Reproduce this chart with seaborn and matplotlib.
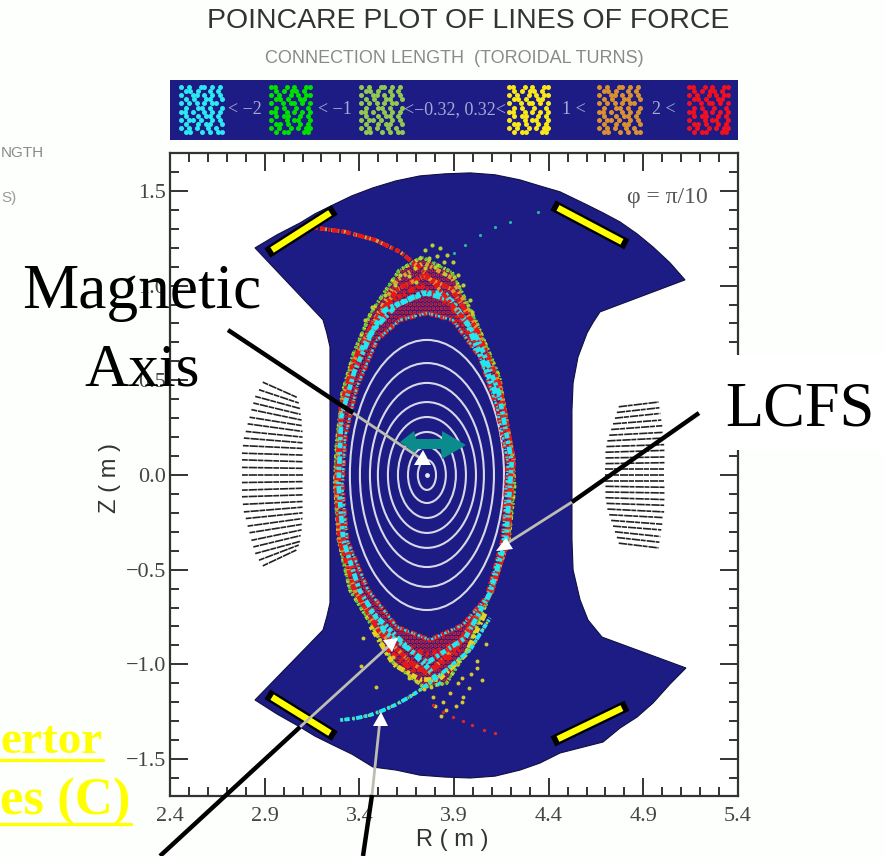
import matplotlib
matplotlib.use("Agg")
import matplotlib.pyplot as plt
from matplotlib.patches import Ellipse, Polygon, Rectangle
from matplotlib.ticker import MultipleLocator
import pandas as pd
import seaborn as sns

# ---------- data (R, Z in metres) ----------
wall_R = [2.849,2.965,3.087,3.166,3.261,3.361,3.472,3.594,3.720,3.853,3.985,4.117,4.249,4.354,4.460,4.603,4.687,4.777,4.867,4.951,5.041,5.120,
          4.671,4.635,4.603,4.555,4.529,4.523,4.523,4.523,4.529,4.566,4.608,4.682,5.125,5.041,4.951,4.867,4.777,4.687,4.460,4.354,4.249,4.117,3.985,3.853,3.720,3.594,3.472,3.361,3.261,3.166,
          3.087,2.965,2.849,3.208,3.228,3.245,3.245,3.228,3.208]
wall_Z = [1.199,1.268,1.331,1.379,1.426,1.474,1.516,1.553,1.579,1.590,1.595,1.585,1.558,1.526,1.495,1.426,1.384,1.336,1.273,1.204,1.120,1.030,
          0.861,0.806,0.750,0.623,0.486,0.343,0.000,-0.343,-0.502,-0.660,-0.766,-0.856,-1.019,-1.104,-1.204,-1.278,-1.336,-1.410,-1.468,-1.521,-1.558,-1.590,-1.600,-1.595,-1.585,-1.558,-1.542,-1.474,-1.426,-1.379,
          -1.331,-1.262,-1.188,-0.819,-0.750,-0.676,0.676,0.750,0.819]

surface_half_width = [0.407,0.354,0.301,0.259,0.206,0.153,0.100,0.048]
surface_half_height = [0.713,0.591,0.486,0.385,0.306,0.227,0.148,0.079]
axis_R, axis_Z = 3.757, 0.0

bars_R = [[2.939,3.245],[4.449,4.787],[4.449,4.787],[2.939,3.245]]
bars_Z = [[1.188,1.384],[1.410,1.231],[-1.394,-1.231],[-1.173,-1.363]]

coilL_Rl = [2.89,2.87,2.85,2.84,2.83,2.82,2.81,2.80,2.79,2.785,2.78,2.78,2.78,2.78,2.78,2.78,2.78,2.785,2.79,2.80,2.81,2.82,2.83,2.84,2.85,2.87,2.89]
coilL_Rr = [3.07,3.08,3.09,3.09,3.095,3.10,3.10,3.10,3.10,3.10,3.10,3.10,3.10,3.10,3.10,3.10,3.10,3.10,3.10,3.10,3.10,3.10,3.095,3.09,3.09,3.08,3.07]
coilL_Zl = [.49,.45,.415,.38,.345,.305,.27,.23,.195,.155,.115,.08,.04,0,-.04,-.08,-.115,-.155,-.195,-.23,-.27,-.305,-.345,-.38,-.415,-.45,-.48]
coilL_Zr = [.41,.38,.35,.32,.29,.26,.23,.2,.17,.14,.105,.07,.035,0,-.035,-.07,-.105,-.14,-.17,-.2,-.23,-.26,-.29,-.32,-.35,-.37,-.395]

coilR_Rl = [4.77,4.76,4.75,4.74,4.73,4.72,4.71,4.705,4.70,4.70,4.70,4.70,4.70,4.70,4.70,4.70,4.70,4.705,4.71,4.72,4.73,4.74,4.75,4.76,4.77]
coilR_Rr = [4.98,4.985,4.99,4.995,5.00,5.005,5.01,5.01,5.015,5.015,5.015,5.015,5.015,5.015,5.015,5.015,5.015,5.01,5.01,5.005,5.00,4.995,4.99,4.985,4.98]
coilR_Zl = [.36,.33,.30,.27,.24,.21,.18,.15,.12,.09,.06,.03,0,-.03,-.06,-.09,-.12,-.15,-.18,-.21,-.24,-.27,-.30,-.33,-.36]
coilR_Zr = [.385,.355,.325,.29,.26,.225,.195,.16,.13,.095,.065,.03,0,-.03,-.065,-.095,-.13,-.16,-.195,-.225,-.26,-.29,-.325,-.355,-.385]

outer_R = [3.73,3.61,3.46,3.37,3.31,3.28,3.27,3.29,3.35,3.47,3.58,3.74,3.86,3.97,4.10,4.19,4.22,4.21,4.14,4.02,3.89,3.73]
outer_Z = [1.15,1.08,.855,.644,.433,.169,-.04,-.343,-.607,-.803,-.993,-1.12,-1.10,-.924,-.607,-.343,-.06,.095,.517,.803,1.07,1.15]
inner_R = [3.757,3.614,3.493,3.387,3.325,3.31,3.335,3.445,3.599,3.773,3.947,4.074,4.158,4.185,4.127,4.037,3.894,3.757]
inner_Z = [.855,.818,.713,.465,.201,-.063,-.343,-.607,-.803,-.871,-.792,-.644,-.343,.063,.359,.623,.818,.855]
midA_R = [3.75,3.60,3.47,3.375,3.305,3.29,3.315,3.40,3.535,3.76,3.96,4.09,4.175,4.205,4.135,4.03,3.89,3.75]
midA_Z = [.96,.90,.76,.55,.31,-.05,-.343,-.607,-.83,-.99,-.86,-.625,-.343,.07,.44,.71,.92,.96]
midB_R = [3.74,3.60,3.47,3.37,3.305,3.278,3.295,3.375,3.50,3.66,3.76,3.92,4.10,4.185,4.215,4.14,4.025,3.89,3.74]
midB_Z = [1.05,.98,.80,.60,.37,-.05,-.343,-.607,-.82,-.98,-1.05,-.90,-.615,-.343,.08,.48,.76,.98,1.05]

capT_orange_R = [3.47,3.60,3.74,3.89,4.02]
capT_orange_Z = [.80,1.03,1.12,1.04,.78]
capT_red_R = [3.44,3.57,3.72,3.88,4.04]
capT_red_Z = [.72,.92,1.0,.90,.66]
capB_red_R = [3.5,3.62,3.77,3.93,4.06]
capB_red_Z = [-.76,-.90,-.95,-.88,-.68]
capB_yellow_R = [3.46,3.58,3.72,3.82,3.96,4.07]
capB_yellow_Z = [-.80,-1.0,-1.08,-1.08,-.95,-.72]
capB_mid_R = [3.55,3.68,3.80,3.93]
capB_mid_Z = [-.92,-1.03,-1.02,-.92]

tail_LL_R = [3.30,3.38,3.456,3.52,3.588,3.66,3.72,3.826,3.985,4.09]
tail_LL_Z = [-1.294,-1.285,-1.268,-1.245,-1.215,-1.175,-1.136,-1.056,-.924,-.755]
vee_R = [3.456,3.615,3.773,3.826]
vee_Z = [-.713,-.871,-1.03,-1.109]
tail_UL_R = [3.166,3.324,3.483,3.615,3.72,3.826,3.958]
tail_UL_Z = [1.305,1.284,1.241,1.178,1.093,.977,.819]
cap_cyan_R = [3.41,3.535,3.73,3.85,3.97,4.13]
cap_cyan_Z = [.66,.87,.96,.96,.80,.41]

top_R = [3.747,3.784,3.826,3.863,3.72,3.768,3.81,3.847,3.894,3.694,3.747,3.92,3.614,3.588,3.947,3.535,3.985,3.467,3.996,3.43,3.80,3.70,3.85,3.66]
top_Z = [1.188,1.215,1.199,1.162,1.146,1.146,1.157,1.125,1.125,1.093,1.093,1.056,1.056,1.004,1.004,.951,.924,.887,.861,.819,1.10,1.02,1.06,1.05]
tail_UR_R = [3.90,3.958,4.037,4.117,4.196,4.344]
tail_UR_Z = [1.17,1.215,1.268,1.31,1.336,1.389]
low_R = [3.74,3.79,3.84,3.88,3.92,3.95,3.80,3.83,3.86,3.91,3.78,3.70,3.66,3.99,4.02,4.05,3.58,3.42,3.41,3.49,4.07,4.02,3.98,3.94,3.94]
low_Z = [-1.13,-1.17,-1.20,-1.15,-1.10,-1.17,-1.22,-1.27,-1.24,-1.22,-1.12,-1.09,-1.07,-1.05,-.98,-1.08,-.96,-.86,-1.01,-1.12,-.89,-1.02,-1.125,-1.07,-1.20]
tail_LR_R = [3.79,3.84,3.895,3.95,3.995,4.06,4.117]
tail_LR_Z = [-1.215,-1.25,-1.278,-1.30,-1.32,-1.345,-1.363]

tick_R = [2.4,2.9,3.4,3.9,4.4,4.9,5.4]
tick_Z = [-1.5,-1.0,-0.5,0.0,0.5,1.0,1.5]
tick_Z_labels = ["\u22121.5","\u22121.0","\u22120.5","0.0","0.5","1.0","1.5"]

legend_labels = ["< \u22122","< \u22121","<\u22120.32, 0.32<","1 <","2 <"]
legend_colors = ["#2ce8f0","#00e000","#90c850","#f8e818","#d89030","#f01020"]
legend_patterns = [
 ["x.x..xx.x.x",".xx.x..x.x.","x..xx.x.x.x",".x.x..xx..x","x.x.x.x.xx.",".x..xx.x..x","xx.x..x.x.x",".x..x.xx.x.","x.xx.x..x.x",".x..x.xx..x","x.x.x..x.x.",".xx..x.x.xx"],
 ["xx..x.x..xx",".x.x.xx.x..","x.x..x.x.xx",".xx.x..xx..","x..x.xx.x.x",".x.x..x..x.","xx..x.x.x.x",".x.xx..x.x.","x...x.xx..x",".xx.x..x.x.","x.x..x.x.xx",".x.xx...xx."],
]

AX_BLUE = "#1c1c84"
sns.set_theme(style="ticks")
serif = ["Liberation Serif", "DejaVu Serif"]
sans = ["Liberation Sans", "DejaVu Sans"]
plt.rcParams["font.family"] = sans
plt.rcParams["hatch.linewidth"] = 2.0

W, H = 885, 856
fig = plt.figure(figsize=(W/100, H/100), dpi=100, facecolor="#fdfffd")

# ---------- main axes ----------
ax = fig.add_axes([170/W, (H-796)/H, 568/W, 643/H], facecolor="#ffffff")
ax.set_xlim(2.4, 5.4)
ax.set_ylim(-1.695, 1.70)

ax.fill(wall_R, wall_Z, facecolor=AX_BLUE, edgecolor="#101040", linewidth=0.8, zorder=1)

for rl, rr, zl, zr in zip(coilL_Rl, coilL_Rr, coilL_Zl, coilL_Zr):
    ax.plot([rl, rr], [zl, zr], color="#222222", lw=1.2, ls=(0, (3.5, 0.5, 5, 0.4)), zorder=2)
for rl, rr, zl, zr in zip(coilR_Rl, coilR_Rr, coilR_Zl, coilR_Zr):
    ax.plot([rl, rr], [zl, zr], color="#222222", lw=1.2, ls=(0, (5, 0.4, 3, 0.6)), zorder=2)

for w, h in zip(surface_half_width, surface_half_height):
    ax.add_patch(Ellipse((axis_R, axis_Z), 2*w, 2*h, fill=False, edgecolor="#d8d8e8", linewidth=1.5, zorder=3))
sns.scatterplot(x=[axis_R], y=[axis_Z], color="#e8e8f4", s=12, linewidth=0, ax=ax, zorder=3, legend=False)

# speckled ground of the band between its outer and inner edge
ax.fill(outer_R + inner_R[::-1], outer_Z + inner_Z[::-1], facecolor="none", edgecolor="#ee2028",
        hatch="....", linewidth=0, zorder=3.5)

def trace(r, z, color, width, pattern, order=4):
    frame = pd.DataFrame({"R": r, "Z": z})
    sns.lineplot(data=frame, x="R", y="Z", sort=False, estimator=None, color=color,
                 linewidth=width, linestyle=(0, pattern), ax=ax, zorder=order, legend=False)

IRREG_A = (0.7, 0.5, 1.2, 0.8, 0.5, 0.4, 1.6, 0.6)
IRREG_B = (0.9, 0.4, 0.5, 0.7, 1.3, 0.5, 0.6, 0.3)
IRREG_C = (0.5, 0.9, 0.8, 0.4, 0.5, 1.1, 1.0, 0.6)

trace(outer_R, outer_Z, "#e8d820", 2.6, IRREG_C)
trace(outer_R, outer_Z, "#50d040", 1.8, IRREG_A)
trace(capT_orange_R, capT_orange_Z, "#e0a030", 3.2, IRREG_C)
trace(capB_yellow_R, capB_yellow_Z, "#e8d020", 3.4, IRREG_A)
trace(midB_R, midB_Z, "#e09030", 3.0, IRREG_B)
trace(midB_R, midB_Z, "#e81818", 3.2, IRREG_A)
trace(capT_red_R, capT_red_Z, "#e81818", 3.6, IRREG_B)
trace(capB_red_R, capB_red_Z, "#e81818", 3.8, IRREG_C)
trace(capB_mid_R, capB_mid_Z, "#e81818", 3.6, IRREG_A)
trace(inner_R, inner_Z, "#e81818", 3.4, IRREG_B)
trace(midA_R, midA_Z, "#f02020", 3.4, IRREG_C)
trace(midA_R, midA_Z, "#20e8f0", 3.4, IRREG_A, order=4.5)
trace(inner_R, inner_Z, "#20e8f0", 1.8, IRREG_C, order=4.5)
trace(cap_cyan_R, cap_cyan_Z, "#20e8f0", 4.0, IRREG_B, order=4.5)
trace(tail_LL_R, tail_LL_Z, "#c8d030", 2.0, IRREG_C)
trace(tail_LL_R, tail_LL_Z, "#20e8f0", 2.8, IRREG_A, order=5)
trace(vee_R, vee_Z, "#20e8f0", 3.6, IRREG_B, order=5)
trace(tail_UL_R, tail_UL_Z, "#e0a030", 2.8, IRREG_C)
trace(tail_UL_R, tail_UL_Z, "#e81818", 3.0, IRREG_A, order=5)

sns.scatterplot(x=top_R, y=top_Z, color="#b8d030", s=9, linewidth=0, ax=ax, zorder=6, legend=False)
sns.scatterplot(x=tail_UR_R, y=tail_UR_Z, color="#28b8a0", s=5, linewidth=0, ax=ax, zorder=6, legend=False)
sns.scatterplot(x=low_R, y=low_Z, color="#d8c830", s=8, linewidth=0, ax=ax, zorder=6, legend=False)
sns.scatterplot(x=tail_LR_R, y=tail_LR_Z, color="#d82828", s=6, linewidth=0, ax=ax, zorder=6, legend=False)

for r, z in zip(bars_R, bars_Z):
    ax.plot(r, z, color="#000000", lw=8.0, solid_capstyle="projecting", zorder=7)
    ax.plot(r, z, color="#ffff00", lw=4.6, solid_capstyle="butt", zorder=8)

ax.set_xticks(tick_R)
ax.set_xticklabels([f"{v:.1f}" for v in tick_R], fontfamily=serif, fontsize=16, color="#444444")
ax.set_yticks(tick_Z)
ax.set_yticklabels(tick_Z_labels, fontfamily=serif, fontsize=16, color="#444444")
ax.xaxis.set_minor_locator(MultipleLocator(0.1))
ax.yaxis.set_minor_locator(MultipleLocator(0.1))
ax.tick_params(which="major", direction="in", length=13, width=1.4, color="#333333", top=True, right=True, pad=3)
ax.tick_params(which="minor", direction="in", length=6.5, width=1.4, color="#333333", top=True, right=True)
ax.tick_params(axis="x", which="major", pad=8)
for s in ax.spines.values():
    s.set_linewidth(1.6)
    s.set_color("#333333")
    s.set_visible(True)
ax.set_xlabel("")
ax.set_ylabel("")

# ---------- legend band ----------
lg = fig.add_axes([170/W, (H-140)/H, 568/W, 60/H], facecolor=AX_BLUE)
lg.set_xlim(170, 738)
lg.set_ylim(140, 80)
lg.set_xticks([]); lg.set_yticks([])
for s in lg.spines.values():
    s.set_visible(False)
swatch_left = [179, 269, 359, 507, 597, 687]
for i, (x0, col) in enumerate(zip(swatch_left, legend_colors)):
    pat = legend_patterns[i % 2]
    xs, ys = [], []
    for row, txt in enumerate(pat):
        for c, ch in enumerate(txt):
            if ch == "x":
                xs.append(x0 + 2 + c*3.9 + (row % 2)*1.5); ys.append(87 + row*4.1)
    sns.scatterplot(x=xs, y=ys, color=col, s=13, marker="o", linewidth=0, ax=lg, legend=False)
lg.set_xlabel(""); lg.set_ylabel("")
for x, t in zip([245, 335, 455, 574, 664], legend_labels):
    lg.text(x, 110, t, ha="center", va="center", fontfamily=serif, fontsize=13, color="#a8a8d0")

# ---------- overlay in picture pixels ----------
ov = fig.add_axes([0, 0, 1, 1], facecolor="none")
ov.set_xlim(0, W); ov.set_ylim(H, 0); ov.axis("off")

ov.text(468, 21, "POINCARE PLOT OF LINES OF FORCE", ha="center", va="center", fontsize=20.4, color="#333333")
ov.text(454, 58, "CONNECTION LENGTH  (TOROIDAL TURNS)", ha="center", va="center", fontsize=13, color="#8a8a8a")
ov.text(1, 153, "NGTH", ha="left", va="center", fontsize=11, color="#8a8a8a")
ov.text(1, 198, "S)", ha="left", va="center", fontsize=11, color="#9a9a9a")
ov.text(667, 197, "\u03c6 = \u03c0/10", ha="center", va="center", fontfamily=serif, fontsize=17, color="#555555")
ov.text(452, 840, "R ( m )", ha="center", va="center", fontsize=17, color="#333333")
ov.text(110, 478, "Z ( m )", ha="center", va="center", rotation=90, fontsize=17, color="#333333")

# LCFS label box hides the frame behind it
ov.add_patch(Rectangle((705, 355), 180, 95, facecolor="#ffffff", edgecolor="none", zorder=1))

ov.add_patch(Polygon([(400,442),(414,431),(416,439),(442,439),(442,431),(466,445),(442,459),(441,449),(417,449),(415,453)],
                     closed=True, facecolor="#0a8c8c", edgecolor="none", zorder=2))

def ptr(black, grey, tip):
    ov.plot(*zip(*grey), color="#bdbdb2", lw=2.0, solid_capstyle="butt", zorder=3)
    ov.plot(*zip(*black), color="#000000", lw=3.2, solid_capstyle="butt", zorder=4)
    ov.add_patch(Polygon(tip, closed=True, facecolor="#ffffff", edgecolor="none", zorder=5))

ptr([(228,330),(353,413)], [(353,413),(420,458)], [(423,450),(414,465),(431,465)])
ptr([(699,413),(572,502)], [(572,502),(506,544)], [(506,538),(496,551),(513,549)])
ptr([(160,856),(300,727)], [(300,727),(390,645)], [(398,638),(383,640),(392,652)])
ptr([(363,856),(372,795)], [(372,795),(380,720)], [(381,712),(373,726),(388,726)])

ov.text(22, 308, "Magnetic", fontfamily=serif, fontsize=45.5, color="#000000", va="baseline", ha="left", zorder=6)
ov.text(84, 385, "Axis", fontfamily=serif, fontsize=44, color="#000000", va="baseline", ha="left", zorder=6)
ov.text(725, 425, "LCFS", fontfamily=serif, fontsize=45, color="#000000", va="baseline", ha="left", zorder=6)

ov.text(0, 753, "ertor", fontfamily=serif, fontweight="bold", fontsize=34, color="#ffff00", va="baseline", ha="left", zorder=6)
ov.plot([0, 103], [760, 760], color="#ffff00", lw=2.4, zorder=6)
ov.text(0, 815, "es (C)", fontfamily=serif, fontweight="bold", fontsize=38, color="#ffff00", va="baseline", ha="left", zorder=6)
ov.plot([0, 131], [824, 824], color="#ffff00", lw=2.4, zorder=6)

fig.savefig("out.png", dpi=100, facecolor=fig.get_facecolor())
